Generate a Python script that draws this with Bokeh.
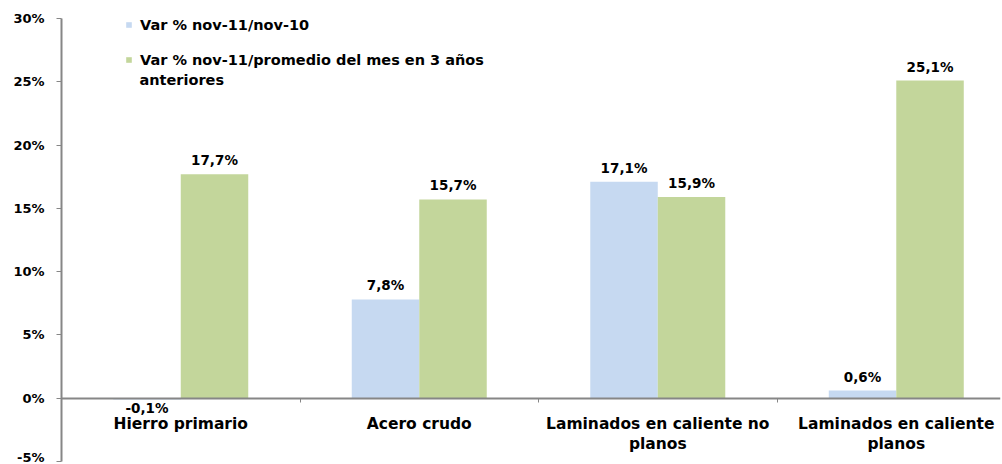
from bokeh.plotting import figure
from bokeh.models import (Range1d, LinearAxis, FixedTicker, ColumnDataSource,
                          Legend, LegendItem, CustomJSTickFormatter, Label)
from bokeh.core.properties import value
from bokeh.embed import file_html
from bokeh.resources import INLINE

categories = ["Hierro primario", "Acero crudo", "Laminados en caliente no\nplanos",
              "Laminados en caliente\nplanos"]
var_anual = [-0.1, 7.8, 17.1, 0.6]
var_promedio = [17.7, 15.7, 15.9, 25.1]
series_names = ["Var % nov-11/nov-10",
                "Var % nov-11/promedio del mes en 3 años"]
series_name_cont = "anteriores"
y_ticks = [-5, 0, 5, 10, 15, 20, 25, 30]

BLUE = "#C6D9F1"
GREEN = "#C3D69B"
AXIS = "#868686"
FONT = "DejaVu Sans"

centers = [i + 0.5 for i in range(len(categories))]
bar_w = 0.283
x_blue = [c - bar_w / 2 for c in centers]
x_green = [c + bar_w / 2 for c in centers]

p = figure(width=1002, height=464, output_backend="svg", toolbar_location=None,
           x_range=Range1d(0, 3.937), y_range=Range1d(-5, 30),
           x_axis_location=None, y_axis_location=None,
           min_border_left=61, min_border_right=2, min_border_top=18,
           min_border_bottom=3)
p.outline_line_color = None
p.xgrid.visible = False
p.ygrid.visible = False
p.background_fill_color = "white"
p.border_fill_color = "white"

src_b = ColumnDataSource(dict(x=x_blue, top=var_anual))
src_g = ColumnDataSource(dict(x=x_green, top=var_promedio))
rb = p.vbar(x="x", top="top", bottom=0, width=bar_w, source=src_b,
            fill_color=BLUE, line_color=None)
rg = p.vbar(x="x", top="top", bottom=0, width=bar_w, source=src_g,
            fill_color=GREEN, line_color=None)

# value labels above (or below, for negatives) each bar
def fmt(v):
    return f"{v:.1f}%".replace(".", ",")

lab_x = x_blue + x_green
lab_v = var_anual + var_promedio
lab_src = ColumnDataSource(dict(
    x=lab_x,
    y=[v if v >= 0 else 0 for v in lab_v],
    t=[fmt(v) for v in lab_v],
    off=[-14 if v >= 0 else 10 for v in lab_v],
))
p.text(x="x", y="y", text="t", y_offset="off", source=lab_src,
       text_font=value(FONT), text_font_style="bold", text_font_size="13.5px",
       text_align="center", text_baseline="alphabetic", text_color="black")

# y axis
yax = LinearAxis(ticker=FixedTicker(ticks=y_ticks),
                 formatter=CustomJSTickFormatter(code="return tick + '%';"))
yax.axis_line_color = AXIS
yax.axis_line_width = 2
yax.major_tick_line_color = AXIS
yax.major_tick_out = 5
yax.major_tick_in = 0
yax.minor_tick_line_color = None
yax.major_label_standoff = 12
yax.major_label_text_font = FONT
yax.major_label_text_font_style = "bold"
yax.major_label_text_font_size = "13px"
yax.major_label_text_color = "black"
p.add_layout(yax, "left")

# category axis sitting on the zero line
xax = LinearAxis(ticker=FixedTicker(ticks=centers, minor_ticks=[1, 2, 3]),
                 fixed_location=0)
xax.major_label_overrides = {c: lab for c, lab in zip(centers, categories)}
xax.axis_line_color = AXIS
xax.axis_line_width = 2
xax.major_tick_line_color = None
xax.minor_tick_line_color = AXIS
xax.minor_tick_out = 4
xax.minor_tick_in = 0
xax.major_label_standoff = 11
xax.major_label_text_font = FONT
xax.major_label_text_font_style = "bold"
xax.major_label_text_font_size = "15.5px"
xax.major_label_text_color = "black"
xax.major_label_text_line_height = 1.1
p.add_layout(xax, "below")

legend = Legend(items=[LegendItem(label=series_names[0], renderers=[rb]),
                       LegendItem(label=series_names[1], renderers=[rg])],
                location=(64, 393))
legend.border_line_color = None
legend.background_fill_alpha = 0
legend.glyph_width = 7
legend.glyph_height = 7
legend.label_standoff = 8
legend.label_height = 17
legend.spacing = 18
legend.padding = 2
legend.label_text_font = FONT
legend.label_text_font_style = "bold"
legend.label_text_font_size = "14.5px"
legend.label_text_color = "black"
legend.label_text_line_height = 1.2
p.add_layout(legend, "center")

# second line of the long legend entry
p.add_layout(Label(x=0.327, y=25.11, text=series_name_cont,
                   text_font=FONT, text_font_style="bold",
                   text_font_size="14.5px", text_color="black",
                   text_baseline="alphabetic"))

open("out.html", "w").write(file_html(p, INLINE))
